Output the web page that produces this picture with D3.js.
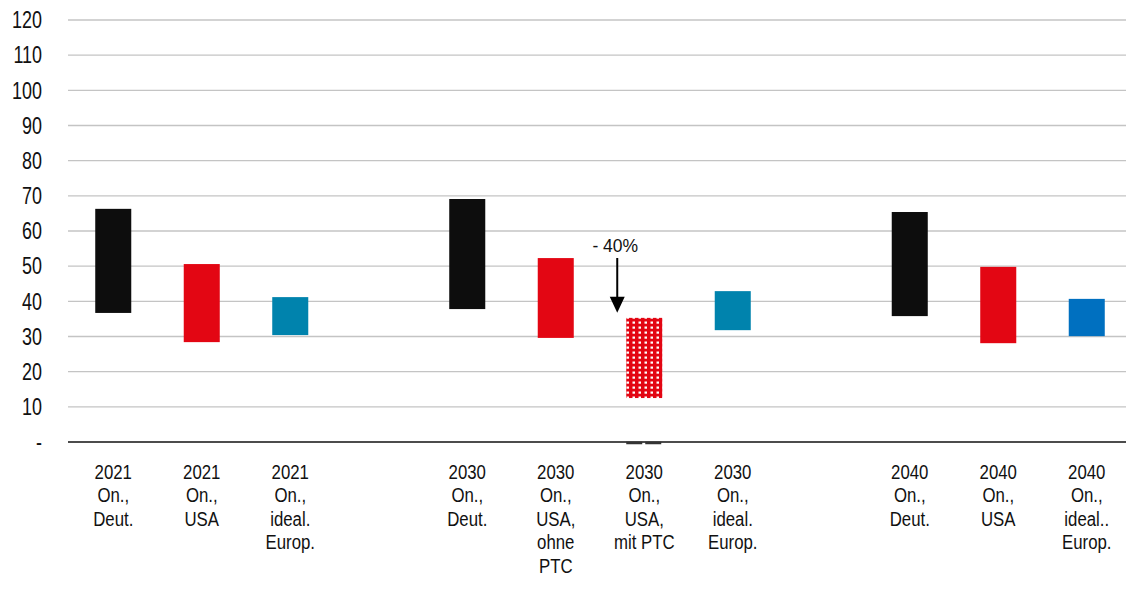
<!DOCTYPE html>
<meta charset="utf-8">
<title>Kostenvergleich</title>
<style>
body {
  margin: 0;
  background: #fff;
  font-family: "Liberation Sans", Arial, sans-serif;
}
.grid line { stroke: #c4c4c4; stroke-width: 1.3px; }
.tick-label { font-size: 23px; fill: #111; }
.cat-label { font-size: 21px; fill: #111; }
</style>
<body>
<div id="vis"></div>
<script src="https://cdn.jsdelivr.net/npm/d3@7"></script>
<script>

// slots along x; gap1 / gap2 are spacer slots between the years
var slots = ["a", "b", "c", "gap1", "d", "e", "f", "g", "gap2", "h", "i", "j"];

var categories = [
  ["2021", "On.,", "Deut."],
  ["2021", "On.,", "USA"],
  ["2021", "On.,", "ideal.", "Europ."],
  ["2030", "On.,", "Deut."],
  ["2030", "On.,", "USA,", "ohne", "PTC"],
  ["2030", "On.,", "USA,", "mit PTC"],
  ["2030", "On.,", "ideal.", "Europ."],
  ["2040", "On.,", "Deut."],
  ["2040", "On.,", "USA"],
  ["2040", "On.,", "ideal..", "Europ."]
];
var barSlots = ["a", "b", "c", "d", "e", "f", "g", "h", "i", "j"];
var lows  = [36.7, 28.4, 30.4, 37.8, 29.6, 12.5, 31.8, 35.8, 28.1, 30.1];
var highs = [66.3, 50.6, 41.2, 69.1, 52.3, 35.3, 42.9, 65.4, 49.8, 40.7];
var colors = ["#0d0d0d", "#e30613", "#0083ad", "#0d0d0d", "#e30613", "url(#dots)", "#0083ad", "#0d0d0d", "#e30613", "#0070c0"];

var yTicks = [0, 10, 20, 30, 40, 50, 60, 70, 80, 90, 100, 110, 120];

var width = 1126,
    height = 594,
    narrow = 0.8;   // squeeze to look like Arial Narrow

var x = d3.scaleBand()
    .domain(slots)
    .range([69, 1131])
    .paddingInner(0.593)
    .paddingOuter(0.2965);

var y = d3.scaleLinear()
    .domain([0, 120])
    .range([442, 20]);

var svg = d3.select("#vis").append("svg")
    .attr("width", width)
    .attr("height", height);

var defs = svg.append("defs");

// dotted red fill for the PTC bar
var pat = defs.append("pattern")
    .attr("id", "dots")
    .attr("patternUnits", "userSpaceOnUse")
    .attr("width", 6)
    .attr("height", 5);
pat.append("rect").attr("width", 6).attr("height", 5).attr("fill", "#e30613");
pat.append("rect").attr("x", 2.5).attr("y", 1.5).attr("width", 2.5).attr("height", 2.2).attr("fill", "#fff");

// grid lines
svg.append("g")
    .attr("class", "grid")
  .selectAll("line")
    .data(yTicks.slice(1))
  .enter().append("line")
    .attr("x1", 68)
    .attr("x2", width)
    .attr("y1", function(d) { return y(d); })
    .attr("y2", function(d) { return y(d); });

// y labels
svg.append("g")
  .selectAll("text")
    .data(yTicks)
  .enter().append("text")
    .attr("class", "tick-label")
    .attr("transform", function(d) { return "translate(42," + y(d) + ") scale(0.78,1)"; })
    .attr("dy", "0.36em")
    .attr("text-anchor", "end")
    .text(function(d) { return d === 0 ? "-" : d; });

// floating bars
svg.append("g")
  .selectAll("rect")
    .data(barSlots)
  .enter().append("rect")
    .attr("x", function(d) { return x(d); })
    .attr("width", x.bandwidth())
    .attr("y", function(d, i) { return y(highs[i]); })
    .attr("height", function(d, i) { return y(lows[i]) - y(highs[i]); })
    .attr("fill", function(d, i) { return colors[i]; });

// zero axis
svg.append("line")
    .attr("x1", 68)
    .attr("x2", width)
    .attr("y1", y(0))
    .attr("y2", y(0))
    .attr("stroke", "#111")
    .attr("stroke-width", 1.5);

// little dashed base mark under the PTC bar
svg.append("line")
    .attr("x1", x("f"))
    .attr("x2", x("f") + x.bandwidth())
    .attr("y1", y(0) + 1)
    .attr("y2", y(0) + 1)
    .attr("stroke", "#333")
    .attr("stroke-width", 2.5)
    .attr("stroke-dasharray", "16,3");

// category labels, one text per line
var cat = svg.append("g")
  .selectAll("g")
    .data(barSlots)
  .enter().append("g")
    .attr("transform", function(d) {
      return "translate(" + (x(d) + x.bandwidth() / 2) + ",479)";
    });

cat.selectAll("text")
    .data(function(d, i) { return categories[i]; })
  .enter().append("text")
    .attr("class", "cat-label")
    .attr("text-anchor", "middle")
    .attr("transform", function(d, i) { return "translate(0," + (i * 23.4) + ") scale(" + narrow + ",1)"; })
    .text(function(d) { return d; });

// -40% arrow annotation
var ax = x("f") - 9,
    tip = y(highs[5]) - 5;

svg.append("line")
    .attr("x1", ax)
    .attr("x2", ax)
    .attr("y1", 258)
    .attr("y2", tip - 12)
    .attr("stroke", "#000")
    .attr("stroke-width", 2);

svg.append("path")
    .attr("d", "M" + (ax - 7.5) + "," + (tip - 16) + "L" + (ax + 7.5) + "," + (tip - 16) + "L" + ax + "," + tip + "Z")
    .attr("fill", "#000");

svg.append("text")
    .attr("x", ax - 2)
    .attr("y", 252)
    .attr("text-anchor", "middle")
    .style("font-size", "17.5px")
    .attr("fill", "#111")
    .text("- 40%");

</script>
</body>
